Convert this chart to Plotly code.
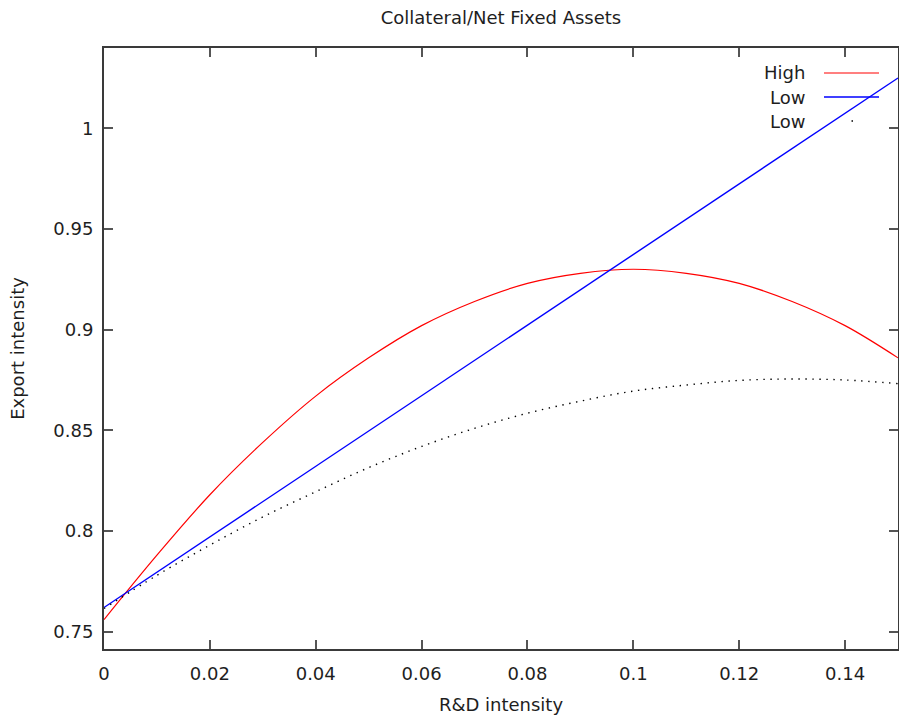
import plotly.graph_objects as go

# R&D intensity sample positions
rd = [0.00, 0.01, 0.02, 0.03, 0.04, 0.05, 0.06, 0.07, 0.08, 0.09,
      0.10, 0.11, 0.12, 0.13, 0.14, 0.15]
# Export intensity
high = [0.756, 0.788, 0.818, 0.844, 0.867, 0.886, 0.902, 0.914, 0.923, 0.928,
        0.930, 0.928, 0.923, 0.914, 0.902, 0.886]
low_line_x = [0.00, 0.15]
low_line = [0.762, 1.025]
low_dot = [0.7615, 0.778, 0.793, 0.807, 0.8195, 0.8315, 0.842, 0.851, 0.8585, 0.8645,
           0.8695, 0.8725, 0.8748, 0.8755, 0.875, 0.8732]

legend_names = ["High", "Low", "Low"]
title = "Collateral/Net Fixed Assets"
x_title = "R&D intensity"
y_title = "Export intensity"

FONT = "DejaVu Sans"
FS = 18
TXT = "#1e1e1e"
W, H = 899, 724
L, R, T, B = 104, 898, 48, 649


def px(xp):
    return (xp - L) / (R - L)


def py(yp):
    return (B - yp) / (B - T)


fig = go.Figure()
fig.add_trace(go.Scatter(x=rd, y=high, mode="lines", name=legend_names[0],
                         line=dict(color="#ff0000", width=1.2, shape="spline")))
fig.add_trace(go.Scatter(x=low_line_x, y=low_line, mode="lines", name=legend_names[1],
                         line=dict(color="#0000ff", width=1.4)))
fig.add_trace(go.Scatter(x=rd, y=low_dot, mode="lines", name=legend_names[2],
                         line=dict(color="#000000", width=1.4, shape="spline",
                                   dash="1.4px,5.6px")))

axis_common = dict(
    showline=True, linecolor="#3a3a3a", linewidth=2, mirror="allticks",
    ticks="inside", ticklen=9, tickwidth=1.5, tickcolor="#555555",
    showgrid=False, zeroline=False,
    tickfont=dict(family=FONT, size=FS, color=TXT),
)

fig.update_layout(
    width=W, height=H,
    margin=dict(l=L, r=W - R, t=T, b=H - B, autoexpand=False),
    paper_bgcolor="white", plot_bgcolor="white",
    showlegend=False,
    title=dict(text=title, x=0.5, xref="paper", y=1 - 18 / H, yref="container",
               yanchor="middle", xanchor="center",
               font=dict(family=FONT, size=FS, color=TXT)),
    xaxis=dict(range=[0, 0.15], tick0=0, dtick=0.02, ticklabelstandoff=7,
               title=dict(text=x_title, standoff=16,
                          font=dict(family=FONT, size=FS, color=TXT)),
               **axis_common),
    yaxis=dict(range=[0.7414, 1.0399], tick0=0.75, dtick=0.05, ticklabelstandoff=5,
               title=dict(text=y_title, standoff=24,
                          font=dict(family=FONT, size=FS, color=TXT)),
               **axis_common),
)

# gnuplot-style key: text on the left, line sample on the right
key_rows = [73, 97, 121]
key_styles = [dict(color="#ff0000", width=1.2),
              dict(color="#0000ff", width=1.4),
              None]
for name, yy, st in zip(legend_names, key_rows, key_styles):
    fig.add_annotation(text=name, xref="paper", yref="paper", x=px(807), y=py(yy),
                       xanchor="right", yanchor="middle", showarrow=False,
                       font=dict(family=FONT, size=FS, color=TXT))
    if st is not None:
        fig.add_shape(type="line", xref="paper", yref="paper",
                      x0=px(824), x1=px(879), y0=py(yy), y1=py(yy), line=st)
    else:
        fig.add_shape(type="line", xref="paper", yref="paper",
                      x0=px(851.5), x1=px(853), y0=py(yy), y1=py(yy),
                      line=dict(color="#000000", width=1.4))

fig.write_html("out.html")
